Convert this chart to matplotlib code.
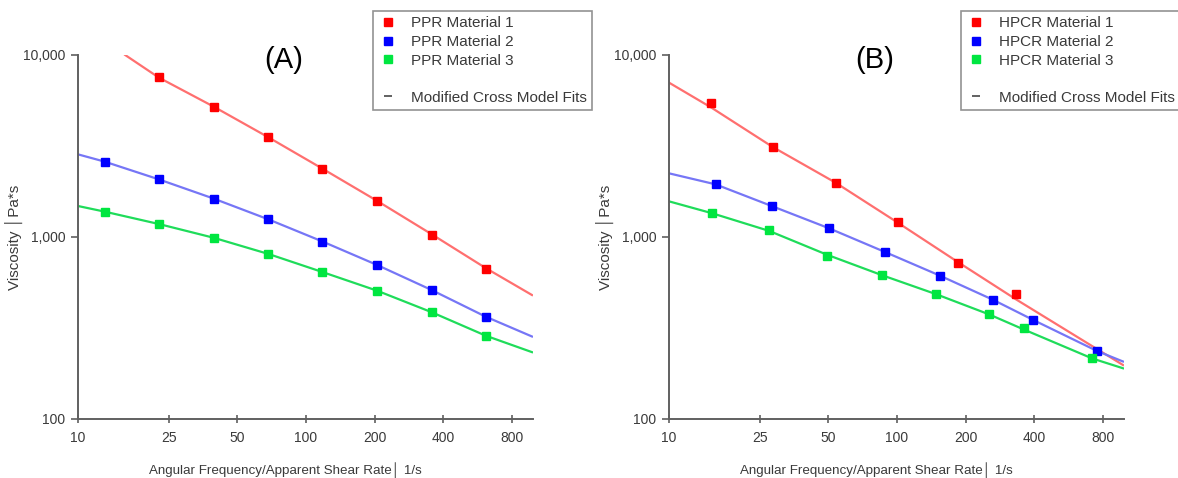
#!/usr/bin/env python3
"""Viscosity vs shear rate for PPR and HPCR materials, with Modified Cross model fits."""

import matplotlib
matplotlib.use("Agg")
import matplotlib.pyplot as plt
from matplotlib.lines import Line2D
from matplotlib.ticker import FixedLocator, NullLocator

plt.rcParams["font.family"] = ["Liberation Sans", "DejaVu Sans"]

# ---- Panel A: PPR materials ----
A_RATE = [13.1, 22.6, 39.4, 68.4, 118, 205, 356, 614]
A_MAT1 = [None, 7540, 5200, 3530, 2374, 1577, 1031, 670]
A_MAT2 = [2594, 2074, 1625, 1250, 943, 702, 511, 365]
A_MAT3 = [1378, 1179, 988, 807, 642, 507, 386, 287]

A_FIT1_X = [16.1, 22.6, 39.4, 68.4, 118, 205, 356, 614, 980]
A_FIT1_Y = [10000, 7520, 5200, 3530, 2375, 1580, 1035, 675, 480]
A_FIT2_X = [10, 13.1, 22.6, 39.4, 68.4, 118, 205, 356, 614, 980]
A_FIT2_Y = [2845, 2594, 2074, 1625, 1250, 945, 702, 511, 365, 284]
A_FIT3_X = [10, 13.1, 22.6, 39.4, 68.4, 118, 205, 356, 614, 980]
A_FIT3_Y = [1480, 1378, 1179, 990, 807, 642, 507, 386, 287, 233]

# ---- Panel B: HPCR materials ----
B_RATE1 = [15.3, 28.5, 53.8, 100.7, 184.5, 332]
B_MAT1 = [5470, 3123, 1988, 1214, 716, 486]
B_RATE2 = [16.0, 28.2, 50.3, 88.6, 154.4, 264.6, 396, 756]
B_MAT2 = [1947, 1480, 1117, 827, 613, 451, 350, 236]
B_RATE3 = [15.5, 27.5, 49.2, 86.2, 147.8, 253, 360.6, 719]
B_MAT3 = [1349, 1093, 787, 616, 486, 376, 316, 215]

B_FIT1_X = [10, 15.3, 28.5, 53.8, 100.7, 184.5, 332, 980]
B_FIT1_Y = [7050, 5150, 3123, 1988, 1200, 730, 455, 198]
B_FIT2_X = [10, 16.0, 28.2, 50.3, 88.6, 154.4, 264.6, 396, 756, 980]
B_FIT2_Y = [2238, 1947, 1480, 1117, 827, 613, 451, 350, 236, 207]
B_FIT3_X = [10, 15.5, 27.5, 49.2, 86.2, 147.8, 253, 360.6, 719, 980]
B_FIT3_Y = [1570, 1349, 1080, 800, 616, 486, 376, 310, 215, 190]

X_TICKS = [10, 25, 50, 100, 200, 400, 800]
Y_TICKS = [100, 1000, 10000]
Y_TICK_LABELS = ["100", "1,000", "10,000"]

MARKER_COLORS = ["#ff0000", "#0000ff", "#00e640"]
LINE_COLORS = ["#ff6f6f", "#7676f6", "#1fdc5a"]
AXIS_GREY = "#606060"
TEXT_GREY = "#3a3a3a"


def style_axes(ax):
    ax.set_xscale("log")
    ax.set_yscale("log")
    ax.set_xlim(10, 990)
    ax.set_ylim(100, 10000)
    for side in ("top", "right"):
        ax.spines[side].set_visible(False)
    for side in ("left", "bottom"):
        ax.spines[side].set_color(AXIS_GREY)
        ax.spines[side].set_linewidth(1.4)
    ax.xaxis.set_major_locator(FixedLocator(X_TICKS))
    ax.xaxis.set_minor_locator(NullLocator())
    ax.set_xticklabels([str(t) for t in X_TICKS])
    ax.yaxis.set_major_locator(FixedLocator(Y_TICKS))
    ax.yaxis.set_minor_locator(NullLocator())
    ax.set_yticklabels(Y_TICK_LABELS)
    ax.tick_params(axis="x", direction="inout", length=6, width=1.2,
                   colors=AXIS_GREY, labelcolor=TEXT_GREY, labelsize=10, pad=6)
    ax.tick_params(axis="y", direction="out", length=5, width=1.2,
                   colors=AXIS_GREY, labelcolor=TEXT_GREY, labelsize=10, pad=4)
    ax.set_xlabel("Angular Frequency/Apparent Shear Rate\u2502 1/s",
                  fontsize=9.6, color=TEXT_GREY)
    ax.xaxis.set_label_coords(0.455, -0.118)
    ax.set_ylabel("Viscosity \u2502Pa*s", fontsize=11, color=TEXT_GREY)
    ax.yaxis.set_label_coords(-0.121, 0.5)


def draw_panel(ax, series, fits, tag):
    for (fx, fy), c in zip(fits, LINE_COLORS):
        ax.plot(fx, fy, color=c, lw=1.6, zorder=2)
    for (sx, sy), c in zip(series, MARKER_COLORS):
        pts = [(x, y) for x, y in zip(sx, sy) if y is not None]
        ax.plot([p[0] for p in pts], [p[1] for p in pts], ls="none", marker="s",
                ms=5.5, color=c, mec=c, zorder=3)
    ax.text(0.452, 0.985, tag, transform=ax.transAxes, fontsize=21,
            ha="center", va="center", color="black")
    style_axes(ax)


def add_legend(fig, names, right, top):
    handles = [Line2D([], [], ls="none", marker="s", ms=5.5, color=c) for c in MARKER_COLORS]
    handles.append(Line2D([], [], ls="none"))
    handles.append(Line2D([], [], ls="none", marker="_", ms=6, mew=1.3, color="#555555"))
    labels = names + [" ", "Modified Cross Model Fits"]
    leg = fig.legend(handles, labels, loc="upper right", bbox_to_anchor=(right, top),
                     bbox_transform=fig.transFigure, fontsize=11, frameon=True,
                     fancybox=False, edgecolor="#777777", handlelength=1.2,
                     handletextpad=0.9, labelspacing=0.3, borderpad=0.35,
                     borderaxespad=0)
    leg.get_frame().set_linewidth(1.2)
    for t in leg.get_texts():
        t.set_color(TEXT_GREY)


fig = plt.figure(figsize=(11.78, 4.78), dpi=100)
ax_a = fig.add_axes([78 / 1178, 59 / 478, 455 / 1178, 364 / 478])
ax_b = fig.add_axes([669 / 1178, 59 / 478, 455 / 1178, 364 / 478])

draw_panel(ax_a,
           [(A_RATE, A_MAT1), (A_RATE, A_MAT2), (A_RATE, A_MAT3)],
           [(A_FIT1_X, A_FIT1_Y), (A_FIT2_X, A_FIT2_Y), (A_FIT3_X, A_FIT3_Y)],
           "(A)")
draw_panel(ax_b,
           [(B_RATE1, B_MAT1), (B_RATE2, B_MAT2), (B_RATE3, B_MAT3)],
           [(B_FIT1_X, B_FIT1_Y), (B_FIT2_X, B_FIT2_Y), (B_FIT3_X, B_FIT3_Y)],
           "(B)")

add_legend(fig, ["PPR Material 1", "PPR Material 2", "PPR Material 3"],
           592 / 1178, 1 - 11 / 478)
add_legend(fig, ["HPCR Material 1", "HPCR Material 2", "HPCR Material 3"],
           1180 / 1178, 1 - 11 / 478)

fig.savefig("out.png", dpi=100)
